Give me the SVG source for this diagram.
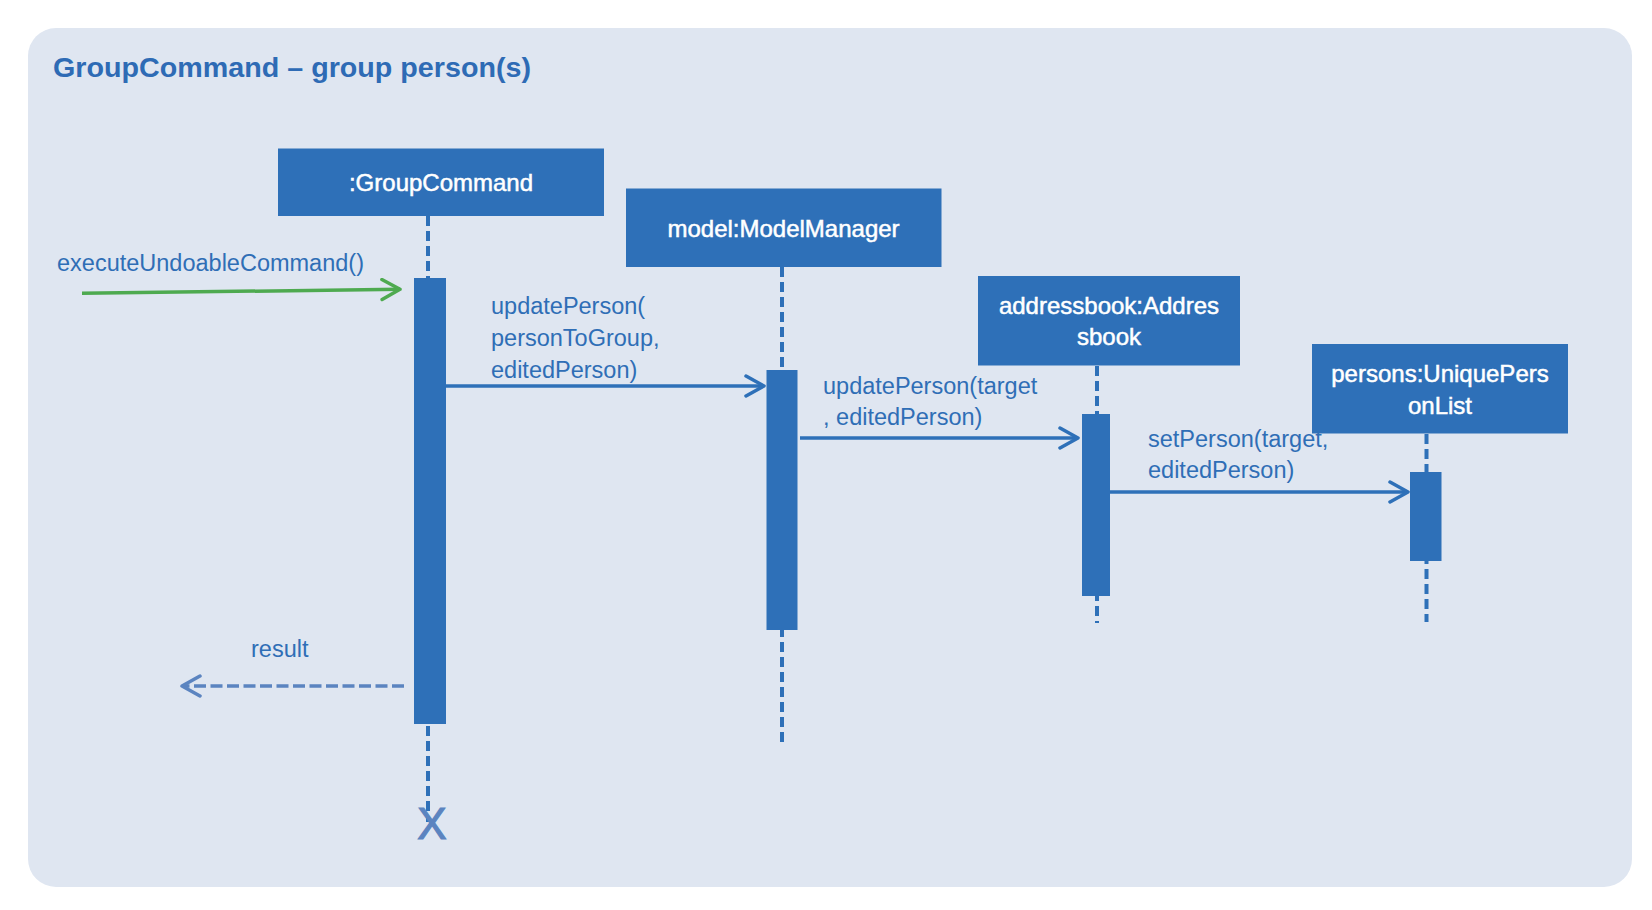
<svg xmlns="http://www.w3.org/2000/svg" width="1652" height="910" viewBox="0 0 1652 910">
<style>
.bg{fill:#DFE6F1}
.box{fill:#2E70B8}
.act{fill:#2E70B8}
.bt{font-family:"Liberation Sans",Arial,sans-serif;font-size:24px;fill:#FFFFFF;stroke:#FFFFFF;stroke-width:0.5;text-anchor:middle}
.lbl{font-family:"Liberation Sans",Arial,sans-serif;font-size:23.5px;fill:#2F6EB6}
.life{stroke:#2E70B8;stroke-width:4;stroke-dasharray:10 5;fill:none}
.msg{stroke:#2E70B8;stroke-width:3.5;fill:none}
.ret{stroke:#5B84C0;stroke-width:3.5;fill:none;stroke-dasharray:12 4.5}
.found{stroke:#4EAA50;stroke-width:3.5;fill:none}
</style>
<defs>
<marker id="ah" viewBox="0 0 22 24" refX="20" refY="12" markerWidth="22" markerHeight="24" markerUnits="userSpaceOnUse" orient="auto">
<path d="M2,2 L20,12 L2,22" fill="none" stroke="#2E70B8" stroke-width="3.5" stroke-linecap="round" stroke-linejoin="round"/>
</marker>
<marker id="ahg" viewBox="0 0 22 24" refX="20" refY="12" markerWidth="22" markerHeight="24" markerUnits="userSpaceOnUse" orient="auto">
<path d="M2,2 L20,12 L2,22" fill="none" stroke="#4EAA50" stroke-width="3.5" stroke-linecap="round" stroke-linejoin="round"/>
</marker>
<marker id="ahr" viewBox="0 0 22 24" refX="20" refY="12" markerWidth="22" markerHeight="24" markerUnits="userSpaceOnUse" orient="auto">
<path d="M2,2 L20,12 L2,22" fill="none" stroke="#5B84C0" stroke-width="3.5" stroke-linecap="round" stroke-linejoin="round"/>
</marker>
</defs>
<rect x="0" y="0" width="1652" height="910" fill="#FFFFFF"/>
<rect class="bg" x="28" y="28" width="1604" height="859" rx="28" ry="28"/>
<text x="53" y="77" font-family="'Liberation Sans',Arial,sans-serif" font-weight="bold" font-size="28.5" fill="#2E6BB5" textLength="478" lengthAdjust="spacingAndGlyphs">GroupCommand – group person(s)</text>

<g id="lifelines">
<line class="life" x1="428" y1="216" x2="428" y2="822"/>
<line class="life" x1="782" y1="267" x2="782" y2="743"/>
<line class="life" x1="1097" y1="366" x2="1097" y2="623"/>
<line class="life" x1="1426.5" y1="434" x2="1426.5" y2="622"/>
</g>

<g id="groupCommand">
<rect class="box" x="278" y="148.5" width="326" height="67.5"/>
<text class="bt" x="441" y="191">:GroupCommand</text>
<rect class="act" x="414" y="278" width="32" height="446"/>
<text x="432" y="839" font-family="'Liberation Sans',Arial,sans-serif" font-size="44" fill="#5B84C0" stroke="#5B84C0" stroke-width="1.2" text-anchor="middle">X</text>
</g>

<g id="modelManager">
<rect class="box" x="626" y="188.5" width="315.5" height="78.5"/>
<text class="bt" x="783.5" y="237">model:ModelManager</text>
<rect class="act" x="766.5" y="370" width="31" height="260"/>
</g>

<g id="addressbook">
<rect class="box" x="978" y="276" width="262" height="89.5"/>
<text class="bt" x="1109" y="314">addressbook:Addres</text>
<text class="bt" x="1109" y="345">sbook</text>
<rect class="act" x="1082" y="414" width="28" height="182"/>
</g>

<g id="uniquePersonList">
<rect class="box" x="1312" y="344" width="256" height="89.5"/>
<text class="bt" x="1440" y="382">persons:UniquePers</text>
<text class="bt" x="1440" y="414">onList</text>
<rect class="act" x="1410" y="472" width="31.5" height="89"/>
</g>

<g id="connectors">
<line class="found" x1="82" y1="293.3" x2="400" y2="289.3" marker-end="url(#ahg)"/>
<text class="lbl" x="57" y="271">executeUndoableCommand()</text>

<line class="msg" x1="446" y1="386" x2="764" y2="386" marker-end="url(#ah)"/>
<text class="lbl" x="491" y="314">updatePerson(</text>
<text class="lbl" x="491" y="346">personToGroup,</text>
<text class="lbl" x="491" y="378">editedPerson)</text>

<line class="msg" x1="800" y1="438" x2="1078" y2="438" marker-end="url(#ah)"/>
<text class="lbl" x="823" y="394">updatePerson(target</text>
<text class="lbl" x="823" y="425">, editedPerson)</text>

<line class="msg" x1="1110" y1="492" x2="1408" y2="492" marker-end="url(#ah)"/>
<text class="lbl" x="1148" y="447">setPerson(target,</text>
<text class="lbl" x="1148" y="478">editedPerson)</text>

<line class="ret" x1="404" y1="686" x2="182" y2="686" marker-end="url(#ahr)"/>
<text class="lbl" x="251" y="657">result</text>
</g>
</svg>
